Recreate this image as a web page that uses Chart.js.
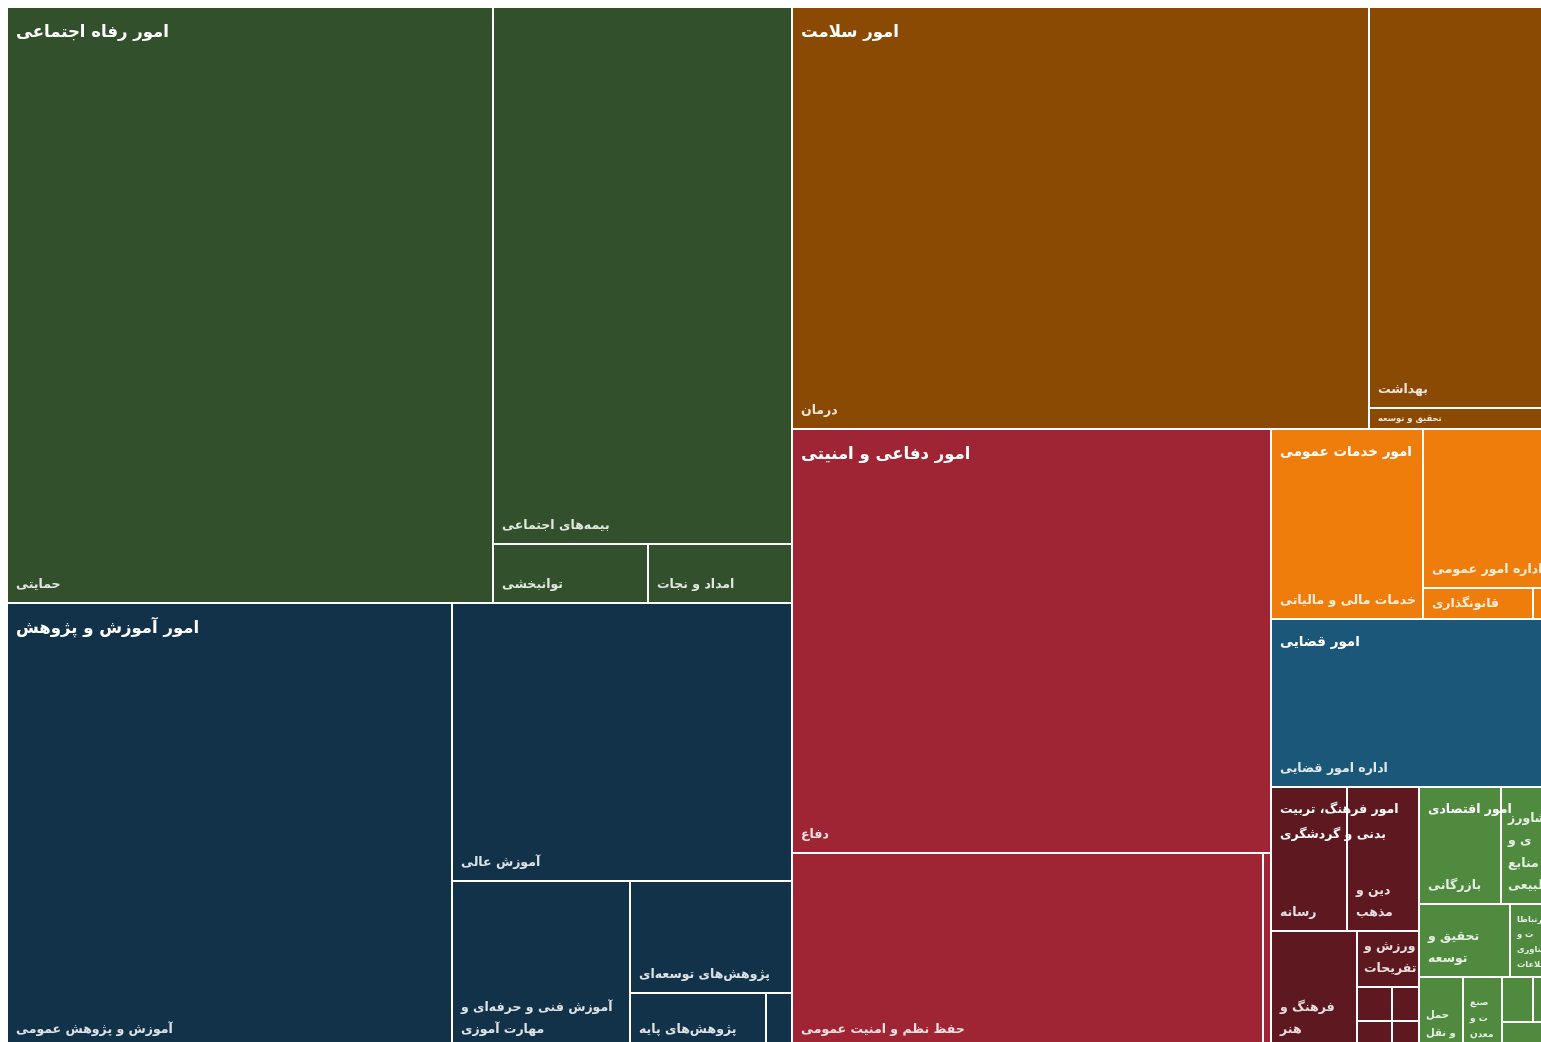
<!DOCTYPE html>
<html lang="fa">
<head>
<meta charset="utf-8">
<script src="https://cdn.jsdelivr.net/npm/chart.js@4.4.1/dist/chart.umd.min.js"></script>
<style>
html,body{margin:0;padding:0;background:#ffffff;overflow:hidden;width:1541px;height:1042px;}
#wrap{position:absolute;left:7px;top:7px;width:1552px;height:1041px;}
canvas{display:block;}
</style>
</head>
<body>
<div id="wrap"><canvas id="c" width="1552" height="1041"></canvas></div>
<script>
// ---------- DATA ----------
const categories = [
  "امور رفاه اجتماعی",
  "امور آموزش و پژوهش",
  "امور سلامت",
  "امور دفاعی و امنیتی",
  "امور خدمات عمومی",
  "امور قضایی",
  "امور فرهنگ، تربیت بدنی و گردشگری",
  "امور اقتصادی"
];

const welfareLabels = ["حمایتی", "بیمه\u200cهای اجتماعی", "توانبخشی", "امداد و نجات"];
const welfareValues = [288575, 160264, 9145, 8496];

const educationLabels = ["آموزش و پژوهش عمومی", "آموزش عالی", "آموزش فنی و حرفه\u200cای و مهارت آموزی", "پژوهش\u200cهای توسعه\u200cای", "پژوهش\u200cهای پایه", "پژوهش\u200cهای کاربردی"];
const educationValues = [197136, 94180, 29726, 18144, 7480, 1430];

const healthLabels = ["درمان", "بهداشت", "تحقیق و توسعه"];
const healthValues = [242496, 76000, 3990];

const defenseLabels = ["دفاع", "حفظ نظم و امنیت عمومی", "تحقیق و توسعه"];
const defenseValues = [202194, 91650, 1560];

const publicLabels = ["خدمات مالی و مالیاتی", "اداره امور عمومی", "قانونگذاری", "تحقیق و توسعه"];
const publicValues = [28880, 21624, 3410, 806];

const judicialLabels = ["اداره امور قضایی"];
const judicialValues = [48384];

const cultureLabels = ["رسانه", "دین و مذهب", "فرهنگ و هنر", "ورزش و تفریحات", "گردشگری", "میراث فرهنگی", "تحقیق و توسعه", "جوانان"];
const cultureValues = [10868, 10296, 10062, 3472, 1225, 945, 910, 702];

const economicLabels = ["بازرگانی", "کشاورزی و منابع طبیعی", "تحقیق و توسعه", "ارتباطات و فناوری اطلاعات", "حمل و نقل", "صنعت و معدن", "انرژی", "منابع آب", "مسکن و عمران", "کار و اشتغال"];
const economicValues = [9512, 6728, 6643, 3577, 3124, 2769, 1395, 1170, 1092, 390];

const childLabels = [welfareLabels, educationLabels, healthLabels, defenseLabels, publicLabels, judicialLabels, cultureLabels, economicLabels];
const childValues = [welfareValues, educationValues, healthValues, defenseValues, publicValues, judicialValues, cultureValues, economicValues];

// ---------- STYLE ----------
const palette = ["#31502B", "#12324A", "#8B4A04", "#9F2535", "#EE7D0B", "#1B5779", "#5D1820", "#4F8A3F"];
const FONT = "'DejaVu Sans', sans-serif";
const VIEW_W = 1552, VIEW_H = 1041;

// ---------- LAYOUT (squarified) ----------
function worst(row, side) {
  let s = 0, mx = -Infinity, mn = Infinity;
  for (const v of row) { s += v; if (v > mx) mx = v; if (v < mn) mn = v; }
  const s2 = s * s, side2 = side * side;
  return Math.max(side2 * mx / s2, s2 / (side2 * mn));
}
function squarify(items, rect) {
  const total = items.reduce((a, b) => a + b.value, 0);
  const k = rect.w * rect.h / total;
  const areas = items.map(it => it.value * k);
  let { x, y, w, h } = rect;
  const out = [];
  let i = 0;
  while (i < items.length) {
    const side = Math.min(w, h);
    const row = [areas[i]];
    let j = i + 1;
    while (j < items.length && worst(row.concat([areas[j]]), side) <= worst(row, side)) { row.push(areas[j]); j++; }
    const sum = row.reduce((a, b) => a + b, 0);
    if (w >= h) {
      const cw = sum / h; let cy = y;
      row.forEach((a, n) => { const ch = a / cw; out.push({ item: items[i + n], x: x, y: cy, w: cw, h: ch }); cy += ch; });
      x += cw; w -= cw;
    } else {
      const rh = sum / w; let cx = x;
      row.forEach((a, n) => { const cwd = a / rh; out.push({ item: items[i + n], x: cx, y: y, w: cwd, h: rh }); cx += cwd; });
      y += rh; h -= rh;
    }
    i = j;
  }
  return out;
}

function wrap(ctx, text, maxW) {
  const words = text.split(' ');
  const lines = [];
  let cur = '';
  for (const wd of words) {
    const t = cur ? cur + ' ' + wd : wd;
    if (ctx.measureText(t).width <= maxW) { cur = t; continue; }
    if (cur) { lines.push(cur); cur = ''; }
    if (ctx.measureText(wd).width <= maxW) { cur = wd; continue; }
    let piece = '';
    for (const ch of Array.from(wd)) {
      if (!piece || ctx.measureText(piece + ch).width <= maxW) piece += ch;
      else { lines.push(piece); piece = ch; }
    }
    cur = piece;
  }
  if (cur) lines.push(cur);
  return lines;
}

function drawLeafLabel(ctx, text, l, t, r, b) {
  const w = r - l, h = b - t;
  if (w < 36 || h < 16) return;
  const pad = w < 70 ? 6 : 8;
  const maxW = w < 52 ? w - 2 * pad - 2 : w - pad - 3;
  let fs = Math.min(12.5, h * 0.4, w * 0.23);
  while (fs >= 6.5) {
    ctx.font = `bold ${fs}px ${FONT}`;
    const lines = wrap(ctx, text, maxW);
    const lh = fs * 1.8;
    const off = Math.min(fs * 1.45, h / 2);
    const last = b - off;
    const first = last - (lines.length - 1) * lh;
    if (first - fs * 0.6 >= t + 2 && lines.length <= 4) {
      lines.forEach((ln, n) => ctx.fillText(ln, l + 1 + pad, first + n * lh));
      return;
    }
    fs -= 0.5;
  }
}

function drawHeader(ctx, text, l, t, r, b) {
  const w = r - l, h = b - t, m = Math.min(w, h);
  const fs = m >= 400 ? 16.5 : (m >= 160 ? 13.5 : 12.5);
  ctx.font = `bold ${fs}px ${FONT}`;
  const lines = wrap(ctx, text, w - 14);
  let cy = t + fs * 0.7 + 14;
  lines.forEach(ln => { ctx.fillText(ln, l + 9, cy); cy += fs * 2; });
}

const treemapPlugin = {
  id: 'treemapCells',
  afterDatasetsDraw(chart) {
    const xs = chart.scales.x, ys = chart.scales.y, ctx = chart.ctx;
    const W = xs.max - xs.min, H = ys.max - ys.min;
    const groups = categories.map((name, i) => {
      const children = childLabels[i].map((n, j) => ({ name: n, value: childValues[i][j] }));
      children.sort((a, b) => b.value - a.value);
      return { name, color: palette[i], children, value: children.reduce((a, c) => a + c.value, 0) };
    });
    groups.sort((a, b) => b.value - a.value);
    const topRects = squarify(groups, { x: xs.min, y: ys.min, w: W, h: H });
    const P = (r) => ({
      l: Math.round(xs.getPixelForValue(r.x)),
      r: Math.round(xs.getPixelForValue(r.x + r.w)),
      t: Math.round(ys.getPixelForValue(r.y)),
      b: Math.round(ys.getPixelForValue(r.y + r.h))
    });
    ctx.save();
    ctx.direction = 'rtl';
    ctx.textAlign = 'left';
    ctx.textBaseline = 'middle';
    const headers = [];
    topRects.forEach(gr => {
      const g = gr.item;
      const leaves = squarify(g.children, { x: gr.x, y: gr.y, w: gr.w, h: gr.h });
      leaves.forEach(lr => {
        const p = P(lr);
        ctx.fillStyle = g.color;
        ctx.fillRect(p.l + 1, p.t + 1, Math.max(0, p.r - p.l - 2), Math.max(0, p.b - p.t - 2));
        ctx.fillStyle = 'rgba(255,255,255,0.86)';
        drawLeafLabel(ctx, lr.item.name, p.l, p.t, p.r, p.b);
      });
      headers.push({ name: g.name, p: P(gr) });
    });
    ctx.fillStyle = '#ffffff';
    headers.forEach(hd => drawHeader(ctx, hd.name, hd.p.l, hd.p.t, hd.p.r, hd.p.b));
    ctx.restore();
  }
};

new Chart(document.getElementById('c'), {
  type: 'scatter',
  data: { datasets: [{ data: [], pointRadius: 0 }] },
  options: {
    responsive: false,
    animation: false,
    events: [],
    layout: { padding: 0 },
    plugins: { legend: { display: false }, tooltip: { enabled: false } },
    scales: {
      x: { type: 'linear', min: 0, max: VIEW_W, display: false },
      y: { type: 'linear', min: 0, max: VIEW_H, reverse: true, display: false }
    }
  },
  plugins: [treemapPlugin]
});
</script>
</body>
</html>
